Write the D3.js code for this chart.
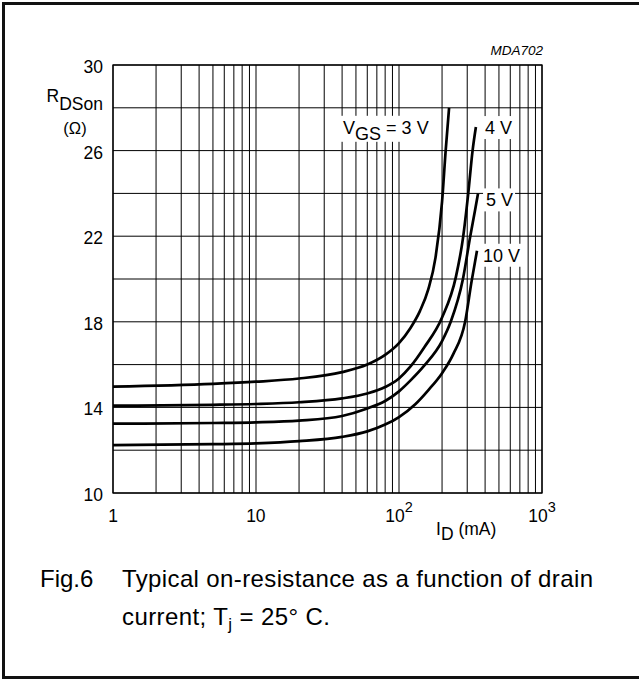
<!DOCTYPE html>
<html>
<head>
<meta charset="utf-8">
<script src="https://cdn.jsdelivr.net/npm/d3@7"></script>
<style>
	body {margin: 0; background: #fff;}
	text {font-family: "Liberation Sans", Arial, sans-serif; fill: #000;}
</style>
</head>
<body>
<svg id="chart" width="639" height="681"></svg>
<script>
// =============================
// RDSon vs drain current, Fig.6
// =============================

// Curve data (ID in mA, RDSon in ohm)
const current3V = [1, 5, 10, 20, 40, 60, 80, 100, 120, 140, 160, 180, 200, 212, 224];
const rds3V     = [14.97, 15.1, 15.2, 15.35, 15.65, 16.0, 16.45, 17.0, 17.7, 18.5, 19.5, 21.0, 23.6, 26.0, 28.0];

const current4V = [1, 5, 10, 20, 40, 60, 80, 100, 120, 150, 200, 250, 280, 305, 327, 345];
const rds4V     = [14.08, 14.12, 14.16, 14.24, 14.42, 14.65, 14.95, 15.35, 15.9, 16.8, 18.2, 20.1, 21.9, 24.0, 26.0, 27.1];

const current5V = [1, 5, 10, 20, 40, 60, 80, 100, 120, 150, 200, 230, 280, 315, 340, 357];
const rds5V     = [13.24, 13.27, 13.3, 13.38, 13.6, 13.95, 14.3, 14.75, 15.25, 15.95, 17.1, 18.0, 20.0, 22.0, 23.2, 24.0];

const current10V = [1, 5, 10, 20, 40, 60, 80, 100, 130, 160, 200, 240, 290, 322, 351];
const rds10V     = [12.24, 12.28, 12.32, 12.42, 12.62, 12.88, 13.2, 13.55, 14.15, 14.8, 15.6, 16.5, 18.0, 19.9, 21.32];

const seriesNames = ["3 V", "4 V", "5 V", "10 V"];

// Axis ticks
const yTicks = [10, 14, 18, 22, 26, 30];
const xTicks = [1, 10, 100, 1000];
const xTickBase = ["1", "10", "10", "10"];
const xTickExp = ["", "", "2", "3"];

// Chart size
const margin = {top: 65, left: 113};
const width = 429,
	  height = 428;

const svg = d3.select("#chart");

// Frame round the figure (right edge runs off the page)
svg.append("rect")
	.attr("x", 3.5).attr("y", 3.5)
	.attr("width", 700).attr("height", 674)
	.attr("fill", "none")
	.attr("stroke", "#111")
	.attr("stroke-width", 3);

const x = d3.scaleLog().domain([1, 1000]).range([0, width]);
const y = d3.scaleLinear().domain([10, 30]).range([height, 0]);

const chart = svg.append("g")
	.attr("transform", `translate(${margin.left},${margin.top})`);

// Grid: every 1..9 per decade, every 2 ohm
const xGrid = d3.range(0, 3).flatMap(p => d3.range(1, 10).map(m => m * Math.pow(10, p))).concat([1000]);
const yGrid = d3.range(10, 31, 2);

chart.append("g").selectAll("line")
	.data(xGrid)
	.enter().append("line")
	.attr("x1", d => x(d)).attr("x2", d => x(d))
	.attr("y1", 0).attr("y2", height)
	.attr("stroke", "#000").attr("stroke-width", 1);

chart.append("g").selectAll("line")
	.data(yGrid)
	.enter().append("line")
	.attr("x1", 0).attr("x2", width)
	.attr("y1", d => y(d)).attr("y2", d => y(d))
	.attr("stroke", "#000").attr("stroke-width", 1);

chart.append("rect")
	.attr("width", width).attr("height", height)
	.attr("fill", "none").attr("stroke", "#000").attr("stroke-width", 1.3);

// Curves
const series = [
	{name: seriesNames[0], id: current3V, r: rds3V},
	{name: seriesNames[1], id: current4V, r: rds4V},
	{name: seriesNames[2], id: current5V, r: rds5V},
	{name: seriesNames[3], id: current10V, r: rds10V}];

const line = d3.line()
	.x(d => x(d[0]))
	.y(d => y(d[1]))
	.curve(d3.curveMonotoneX);

chart.selectAll(".curve")
	.data(series)
	.enter().append("path")
	.attr("class", "curve")
	.attr("d", s => line(s.id.map((v, i) => [v, s.r[i]])))
	.attr("fill", "none")
	.attr("stroke", "#000")
	.attr("stroke-width", 2.7);

// Curve labels on white patches; offsets from each curve's top point
const labelOffsets = [[-106, 26], [9, 7], [8, 13], [6, 11]];

series.forEach((s, i) => {
	const last = s.id.length - 1;
	const lx = x(s.id[last]) + labelOffsets[i][0],
		  ly = y(s.r[last]) + labelOffsets[i][1];
	const g = chart.append("g");
	const bg = g.append("rect").attr("fill", "#fff");
	const t = g.append("text")
		.attr("x", lx).attr("y", ly)
		.style("font-size", "18px");
	if (i === 0) {
		t.append("tspan").text("V");
		t.append("tspan").text("GS").attr("dy", 6);
		t.append("tspan").text(" = " + s.name).attr("dy", -6);
	} else {
		t.text(s.name);
	}
	const b = t.node().getBBox();
	bg.attr("x", b.x - 3).attr("y", ly - 18)
		.attr("width", b.width + 5).attr("height", i === 0 ? 26 : 23);
});

// Y tick labels
chart.selectAll(".ylab")
	.data(yTicks)
	.enter().append("text")
	.attr("x", -10)
	.attr("y", d => y(d) + 8)
	.style("text-anchor", "end")
	.style("font-size", "17.5px")
	.text(d => d);

// X tick labels
xTicks.forEach((d, i) => {
	const t = chart.append("text")
		.attr("y", height + 29)
		.style("font-size", "17.5px");
	t.append("tspan").text(xTickBase[i]);
	if (xTickExp[i]) t.append("tspan").text(xTickExp[i]).attr("dy", -10).style("font-size", "14.5px");
	const w = t.node().getBBox().width;
	t.attr("x", x(d) - w / 2);
});

// Axis titles
const yTitle = svg.append("text")
	.attr("x", 103).attr("y", 102)
	.style("text-anchor", "end")
	.style("font-size", "17.5px");
yTitle.append("tspan").text("R");
yTitle.append("tspan").text("DSon").attr("dy", 8);

svg.append("text")
	.attr("x", 75).attr("y", 134)
	.style("text-anchor", "middle")
	.style("font-size", "16.5px")
	.text("(\u03A9)");

const xTitle = svg.append("text")
	.attr("x", 436).attr("y", 535)
	.style("font-size", "17.5px");
xTitle.append("tspan").text("I");
xTitle.append("tspan").text("D").attr("dy", 5);
xTitle.append("tspan").text(" (mA)").attr("dy", -5);

svg.append("text")
	.attr("x", 543).attr("y", 55)
	.style("text-anchor", "end")
	.style("font-size", "13.5px")
	.style("font-style", "italic")
	.text("MDA702");

// Caption
svg.append("text")
	.attr("x", 40).attr("y", 587)
	.style("font-size", "24px")
	.text("Fig.6");

svg.append("text")
	.attr("x", 122).attr("y", 587)
	.style("font-size", "24px")
	.attr("textLength", 471)
	.text("Typical on-resistance as a function of drain");

const cap2 = svg.append("text")
	.attr("x", 122).attr("y", 625)
	.style("font-size", "24px")
	.attr("textLength", 208);
cap2.append("tspan").text("current; T");
cap2.append("tspan").text("j").attr("dy", 5).style("font-size", "17px");
cap2.append("tspan").text(" = 25\u00B0 C.").attr("dy", -5);
</script>
</body>
</html>
